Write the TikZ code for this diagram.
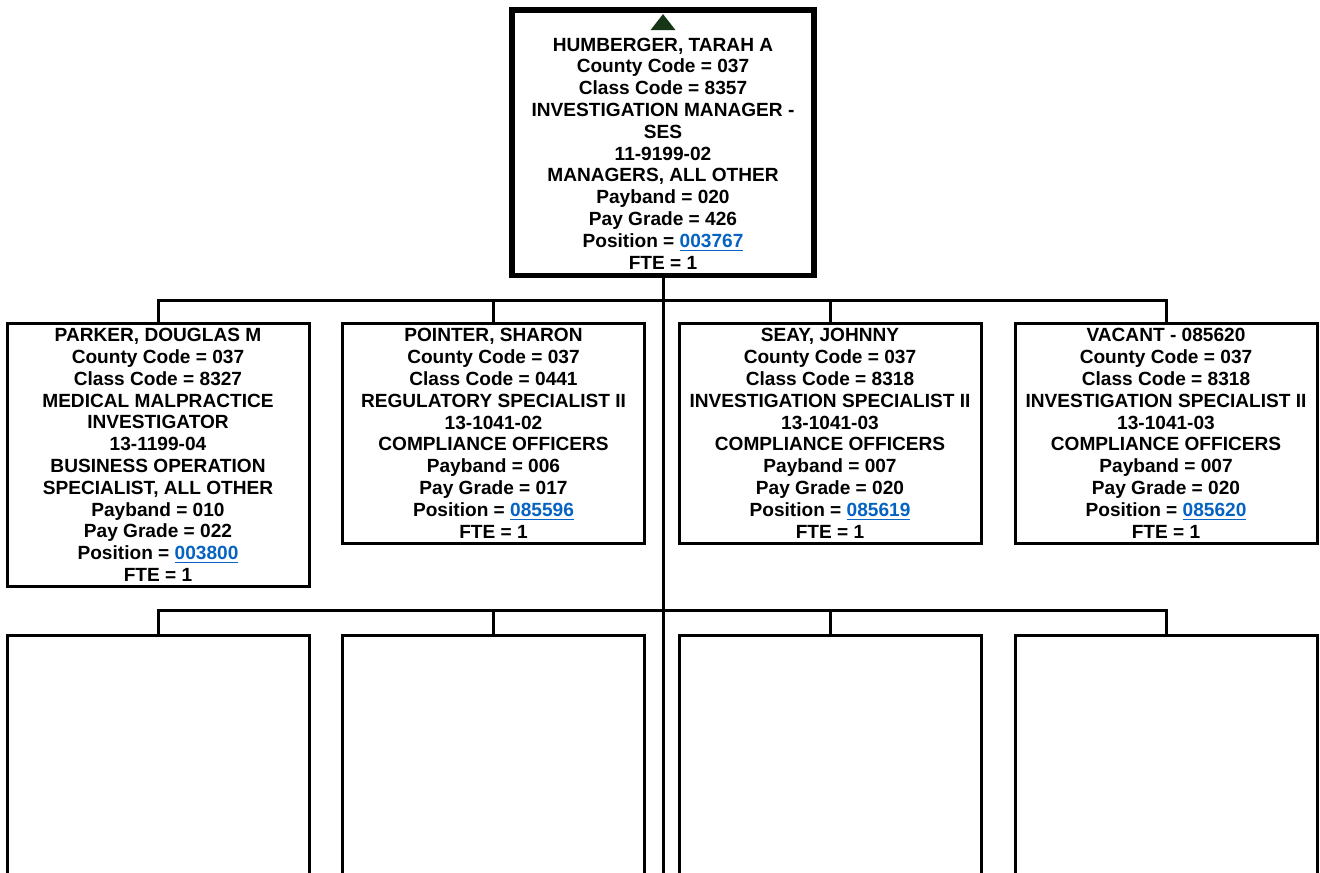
\documentclass[tikz,border=0pt]{standalone}
\usepackage{fontspec}
\setmainfont{Liberation Sans}
\usepackage{xcolor}
\usetikzlibrary{shapes.geometric,positioning}
\definecolor{linkblue}{RGB}{6,99,193}
\definecolor{upgreen}{RGB}{22,54,22}
\newcommand{\poslink}[1]{\textcolor{linkblue}{\underline{#1}}}

\begin{document}
\begin{tikzpicture}[
    x=0.5pt, y=-0.5pt,
    chart/.style={font=\bfseries\fontsize{9.55pt}{10.9pt}\selectfont, align=center},
    boss/.style={chart, draw, line width=2.75pt, minimum width=151pt, minimum height=132.75pt, inner sep=0pt},
    staff/.style={chart, draw, line width=1.5pt, minimum width=151pt, minimum height=109.75pt, inner sep=0pt},
    empty/.style={draw, line width=1.5pt, minimum width=151pt, minimum height=150pt, anchor=north, inner sep=0pt},
    wire/.style={line width=1.5pt}
]
\useasboundingbox (0,0) rectangle (1320,872);
\clip (0,0) rectangle (1320,872);

\node[boss] (mgr) at (663,142.75) {};
\node[isosceles triangle, shape border rotate=90, isosceles triangle stretches,
      fill=upgreen, minimum width=12.5pt, minimum height=8pt, inner sep=0pt] (up) at (663,24) {};
\node[chart] (mgrtxt) at (663,153.5) {HUMBERGER, TARAH A\\County Code = 037\\Class Code = 8357\\INVESTIGATION MANAGER -\\SES\\11-9199-02\\MANAGERS, ALL OTHER\\Payband = 020\\Pay Grade = 426\\Position = \poslink{003767}\\FTE = 1};

\node[staff, minimum height=131.5pt] (p1) at (158,455) {PARKER, DOUGLAS M\\County Code = 037\\Class Code = 8327\\MEDICAL MALPRACTICE\\INVESTIGATOR\\13-1199-04\\BUSINESS OPERATION\\SPECIALIST, ALL OTHER\\Payband = 010\\Pay Grade = 022\\Position = \poslink{003800}\\FTE = 1};
\node[staff] (p2) at (493.5,433.25) {POINTER, SHARON\\County Code = 037\\Class Code = 0441\\REGULATORY SPECIALIST II\\13-1041-02\\COMPLIANCE OFFICERS\\Payband = 006\\Pay Grade = 017\\Position = \poslink{085596}\\FTE = 1};
\node[staff] (p3) at (830,433.25) {SEAY, JOHNNY\\County Code = 037\\Class Code = 8318\\INVESTIGATION SPECIALIST II\\13-1041-03\\COMPLIANCE OFFICERS\\Payband = 007\\Pay Grade = 020\\Position = \poslink{085619}\\FTE = 1};
\node[staff] (p4) at (1166,433.25) {VACANT - 085620\\County Code = 037\\Class Code = 8318\\INVESTIGATION SPECIALIST II\\13-1041-03\\COMPLIANCE OFFICERS\\Payband = 007\\Pay Grade = 020\\Position = \poslink{085620}\\FTE = 1};

\node[empty] (v1) at (158,633.5) {};
\node[empty] (v2) at (493.5,633.5) {};
\node[empty] (v3) at (830,633.5) {};
\node[empty] (v4) at (1166,633.5) {};

\coordinate (j1) at (663,300);
\coordinate (j2) at (663,610);
\coordinate (tail) at (663,880);

\draw[wire] (mgr.south) -- (tail);
\foreach \n in {p1,p2,p3,p4} \draw[wire] (j1) -| (\n.north);
\foreach \n in {v1,v2,v3,v4} \draw[wire] (j2) -| (\n.north);
\end{tikzpicture}
\end{document}
